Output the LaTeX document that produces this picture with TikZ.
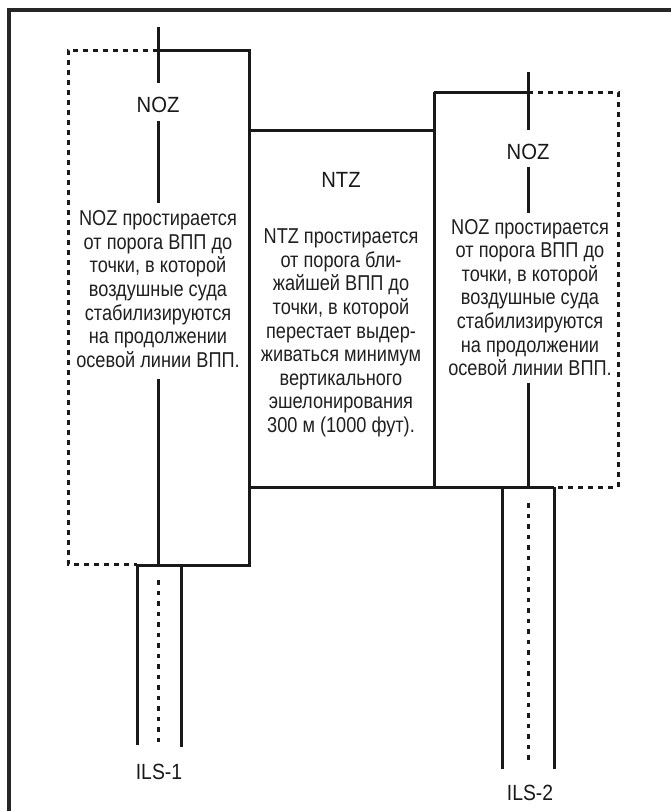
\documentclass[tikz,border=0pt]{standalone}
\usepackage{fontspec}
\setmainfont{Liberation Sans}[FakeStretch=0.845]
\newfontfamily\labelfont{Liberation Sans}[FakeStretch=0.92]
\newfontfamily\ilsfont{Liberation Sans}[FakeStretch=0.88]
\begin{document}
\begin{tikzpicture}[x=1pt,y=-1pt,
  frame/.style={line width=3.2pt, draw=black!85},
  solidline/.style={line width=3pt, draw=black!90},
  dashline/.style={line width=3pt, draw=black!90, dash pattern=on 5pt off 5pt},
  dotline/.style={line width=3pt, draw=black!90, dash pattern=on 4.5pt off 6pt},
  bodytext/.style={align=center, text=black!88, font=\fontsize{21.5}{23.6}\selectfont, inner sep=0pt},
  labeltext/.style={text=black!90, font=\labelfont\fontsize{22}{24}\selectfont, inner sep=0pt},
  ilstext/.style={text=black!90, font=\ilsfont\fontsize{22}{24}\selectfont, inner sep=0pt}]
\useasboundingbox (0,0) rectangle (671,811);

% outer frame (cropped at right and bottom)
\coordinate (fbl) at (9,815);
\coordinate (ftl) at (9,10);
\coordinate (ftr) at (675,10);
\draw[frame] (fbl) -- (ftl) -- (ftr);

% ---------- left NOZ ----------
\coordinate (LdTL) at (68,50);
\coordinate (LcT)  at (158,50);
\coordinate (LTR)  at (249,50);
\coordinate (LBR)  at (249,565);
\coordinate (LdBL) at (68,564);
\coordinate (RW1l) at (137,564);
\coordinate (RW1lt) at (137,565);
\coordinate (RW1lb) at (137,745);
\coordinate (RW1rt) at (181,565);
\coordinate (RW1rb) at (181,747);
\coordinate (L1a) at (158,27);
\coordinate (L1b) at (158,83);
\coordinate (L1c) at (158,121);
\coordinate (L1d) at (158,203);
\coordinate (L1e) at (158,379);
\coordinate (L1f) at (158,565);
\coordinate (L1g) at (158,580);
\coordinate (L1h) at (158,742);

\draw[dashline] (LcT) -- (LdTL) -- (LdBL) -- (RW1l);
\draw[solidline] (LcT) -- (LTR) -- (LBR) -- (RW1lt);
\draw[solidline] (RW1lt) -- (RW1lb);
\draw[solidline] (RW1rt) -- (RW1rb);
\draw[solidline] (L1a) -- (L1b);
\draw[solidline] (L1c) -- (L1d);
\draw[solidline] (L1e) -- (L1f);
\draw[dotline] (L1g) -- (L1h);

\node[labeltext] (noz1) at (158,105) {NOZ};
\node[bodytext] (noz1t) at (158,289) {NOZ простирается\\от порога ВПП до\\точки, в которой\\воздушные суда\\стабилизируются\\на продолжении\\осевой линии ВПП.};
\node[ilstext] (ils1) at (159,772) {ILS-1};

% ---------- NTZ ----------
\coordinate (NTL) at (249,130);
\coordinate (NTR) at (434,130);
\coordinate (NRT) at (434,92);
\coordinate (NRB) at (434,487);
\coordinate (NBL) at (249,487);
\coordinate (NBR) at (554,487);
\draw[solidline] (NTL) -- (NTR);
\draw[solidline] (NRT) -- (NRB);
\draw[solidline] (NBL) -- (NBR);

\node[labeltext] (ntz) at (341,180) {NTZ};
\node[bodytext] (ntzt) at (341,333) {NTZ простирается\\от порога бли-\\жайшей ВПП до\\точки, в которой\\перестает выдер-\\живаться минимум\\вертикального\\эшелонирования\\300 м (1000 фут).};

% ---------- right NOZ ----------
\coordinate (RcT) at (528,92);
\coordinate (RdTR) at (618,92);
\coordinate (RdBR) at (618,487);
\coordinate (RW2rt) at (554,487);
\coordinate (RW2rb) at (554,769);
\coordinate (RW2lt) at (502,487);
\coordinate (RW2lb) at (502,769);
\coordinate (R1a) at (528,72);
\coordinate (R1b) at (528,130);
\coordinate (R1c) at (528,167);
\coordinate (R1d) at (528,213);
\coordinate (R1e) at (528,383);
\coordinate (R1f) at (528,487);
\coordinate (R1g) at (528,503);
\coordinate (R1h) at (528,762);

\draw[solidline] (NRT) -- (RcT);
\draw[dashline] (RcT) -- (RdTR) -- (RdBR) -- (RW2rt);
\draw[solidline] (RW2lt) -- (RW2lb);
\draw[solidline] (RW2rt) -- (RW2rb);
\draw[solidline] (R1a) -- (R1b);
\draw[solidline] (R1c) -- (R1d);
\draw[solidline] (R1e) -- (R1f);
\draw[dotline] (R1g) -- (R1h);

\node[labeltext] (noz2) at (528,152) {NOZ};
\node[bodytext] (noz2t) at (530,297.5) {NOZ простирается\\от порога ВПП до\\точки, в которой\\воздушные суда\\стабилизируются\\на продолжении\\осевой линии ВПП.};
\node[ilstext] (ils2) at (530,793) {ILS-2};
\end{tikzpicture}
\end{document}
